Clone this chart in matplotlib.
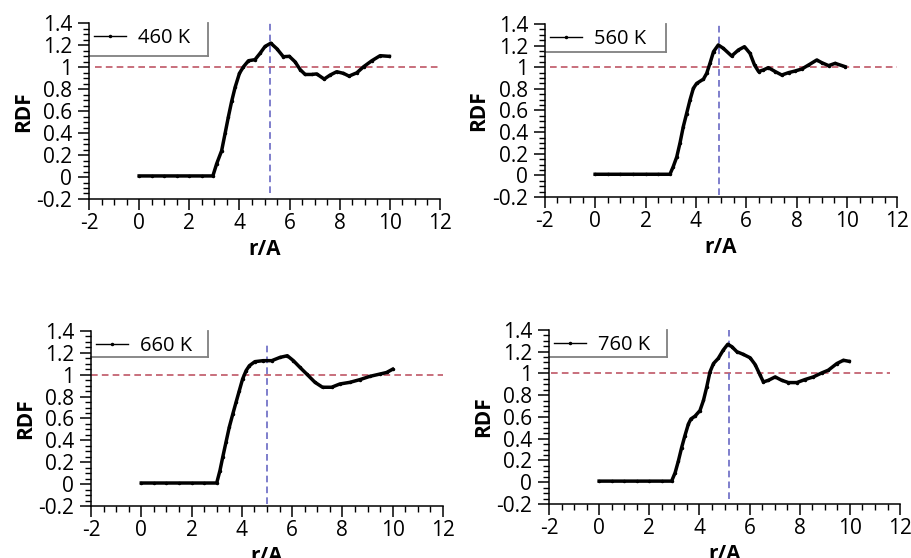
import matplotlib
matplotlib.use('Agg')
import matplotlib.pyplot as plt
from matplotlib.ticker import MultipleLocator, FormatStrFormatter
from matplotlib.lines import Line2D

plt.rcParams['font.family'] = ['Open Sans', 'DejaVu Sans']

# --- data ---
temps = ['460 K', '560 K', '660 K', '760 K']

r_460 = [0, 0.5, 1, 1.5, 2, 2.5, 2.94, 3.09, 3.29, 3.43, 3.56, 3.69, 3.83, 4.0, 4.16,
         4.36, 4.62, 4.82, 5.02, 5.25, 5.49, 5.75, 5.99, 6.22, 6.42, 6.62, 6.88,
         7.08, 7.38, 7.62, 7.88, 8.15, 8.37, 8.68, 8.95, 9.28, 9.61, 9.98]
g_460 = [0.01, 0.01, 0.01, 0.01, 0.01, 0.01, 0.01, 0.12, 0.24, 0.40, 0.55, 0.69, 0.82, 0.945, 1.005,
         1.06, 1.07, 1.127, 1.19, 1.22, 1.17, 1.097, 1.10, 1.05, 0.98, 0.935, 0.935,
         0.94, 0.893, 0.93, 0.96, 0.945, 0.92, 0.95, 1.005, 1.06, 1.106, 1.10]

r_560 = [0, 0.5, 1, 1.5, 2, 2.5, 2.97, 3.1, 3.24, 3.37, 3.5, 3.63, 3.77, 3.9, 4.03, 4.3,
         4.43, 4.56, 4.7, 4.89, 5.09, 5.42, 5.69, 5.93, 6.15, 6.33, 6.49, 6.68, 6.88,
         7.15, 7.41, 7.68, 7.94, 8.21, 8.47, 8.8, 9.0, 9.27, 9.53, 9.93]
g_560 = [0.01, 0.01, 0.01, 0.01, 0.01, 0.01, 0.01, 0.08, 0.17, 0.30, 0.45, 0.57, 0.70, 0.805, 0.85, 0.89,
         0.944, 1.036, 1.144, 1.206, 1.175, 1.104, 1.16, 1.19, 1.128, 1.02, 0.96, 0.975, 0.996,
         0.96, 0.928, 0.95, 0.965, 0.984, 1.02, 1.067, 1.042, 1.015, 1.036, 1.005]

r_660 = [0, 0.5, 1, 1.5, 2, 2.5, 3.0, 3.13, 3.24, 3.37, 3.5, 3.64, 3.77, 3.9, 4.03, 4.17,
         4.3, 4.52, 4.85, 5.19, 5.52, 5.81, 6.05, 6.31, 6.58, 6.91, 7.21, 7.57, 7.9,
         8.3, 8.7, 9.1, 9.5, 9.76, 10.0]
g_660 = [0.01, 0.01, 0.01, 0.01, 0.01, 0.01, 0.01, 0.124, 0.246, 0.383, 0.52, 0.64, 0.748, 0.854, 0.96, 1.037,
         1.082, 1.119, 1.128, 1.128, 1.158, 1.173, 1.128, 1.067, 1.006, 0.93, 0.885, 0.885, 0.915,
         0.93, 0.955, 0.985, 1.006, 1.02, 1.05]

r_760 = [0, 0.5, 1, 1.5, 2, 2.5, 2.89, 3.03, 3.16, 3.29, 3.42, 3.56, 3.66, 3.82, 4.02, 4.16,
         4.29, 4.42, 4.56, 4.75, 4.95, 5.13, 5.29, 5.49, 5.75, 6.02, 6.22, 6.42, 6.55,
         6.75, 7.02, 7.28, 7.55, 7.88, 8.21, 8.54, 8.88, 9.14, 9.48, 9.74, 9.97]
g_760 = [0.01, 0.01, 0.01, 0.01, 0.01, 0.01, 0.01, 0.087, 0.195, 0.318, 0.427, 0.535, 0.581, 0.606, 0.658, 0.751,
         0.874, 1.013, 1.09, 1.137, 1.214, 1.267, 1.245, 1.199, 1.174, 1.143, 1.081, 0.983, 0.921,
         0.936, 0.967, 0.936, 0.915, 0.915, 0.943, 0.967, 1.004, 1.029, 1.09, 1.12, 1.11]

peak_r = [5.22, 4.92, 5.0, 5.18]   # vertical guide lines
unity = 1.0                        # horizontal guide line

curves = [(r_460, g_460), (r_560, g_560), (r_660, g_660), (r_760, g_760)]

# --- layout ---
boxes = [[0.0977, 0.6434, 0.3853, 0.3146],
         [0.598, 0.647, 0.387, 0.310],
         [0.0999, 0.0932, 0.3863, 0.3138],
         [0.6026, 0.0968, 0.3854, 0.3122]]
hspan = [(-1.76, 12), (-1.8, 12), (-2, 12), (-1.9, 11.6)]
vspan = [(-0.15, 1.4), (-0.18, 1.4), (-0.18, 1.3), (-0.15, 1.4)]
legbox = [(0.338, 0.815), (0.344, 0.84), (0.332, 0.85), (0.336, 0.845)]

fig = plt.figure(figsize=(9.11, 5.58), dpi=100)

for i in range(4):
    ax = fig.add_axes(boxes[i])
    r, g = curves[i]
    ax.plot(r, g, color='black', lw=2.5, marker='.', ms=3, zorder=3)
    ax.hlines(unity, hspan[i][0], hspan[i][1], colors='#bf5666', linestyles=(0, (4, 2.5)), lw=1.2)
    ax.vlines(peak_r[i], vspan[i][0], vspan[i][1], colors='#6868c4', linestyles=(0, (4, 2.5)), lw=1.2)

    ax.set_xlim(-2, 12)
    ax.set_ylim(-0.2, 1.4)
    ax.spines['top'].set_visible(False)
    ax.spines['right'].set_visible(False)
    ax.spines['left'].set_linewidth(1.1)
    ax.spines['bottom'].set_linewidth(1.1)
    ax.xaxis.set_major_locator(MultipleLocator(2))
    ax.xaxis.set_minor_locator(MultipleLocator(0.5))
    ax.yaxis.set_major_locator(MultipleLocator(0.2))
    ax.yaxis.set_minor_locator(MultipleLocator(0.05))
    ax.xaxis.set_major_formatter(FormatStrFormatter('%g'))
    ax.yaxis.set_major_formatter(FormatStrFormatter('%g'))
    ax.tick_params(which='major', direction='out', length=8, width=1.1, labelsize=15)
    ax.tick_params(axis='x', which='major', pad=2)
    ax.tick_params(axis='y', which='major', pad=4)
    ax.tick_params(which='minor', direction='out', length=4.5, width=1.0)
    # bottom row labels run past the figure edge, as in the original
    ax.set_xlabel('r/A', fontsize=15, fontweight='bold', labelpad=4)
    ax.set_ylabel('RDF', fontsize=15, fontweight='bold', labelpad=2)

    handle = Line2D([], [], color='black', lw=1, marker='.', ms=3)
    ax.legend([handle], [temps[i]], loc='upper left', bbox_to_anchor=(0.0, 1.0),
              frameon=False, fontsize=14.5, handlelength=1.6, handletextpad=0.6,
              borderaxespad=0, borderpad=0.25, numpoints=1)
    xr, yb = legbox[i]
    ax.plot([xr, xr], [yb, 1.0], transform=ax.transAxes, color='#808080', lw=1.3, clip_on=False)
    ax.plot([0, xr], [yb, yb], transform=ax.transAxes, color='#808080', lw=1.3, clip_on=False)

fig.savefig('out.png', dpi=100)
